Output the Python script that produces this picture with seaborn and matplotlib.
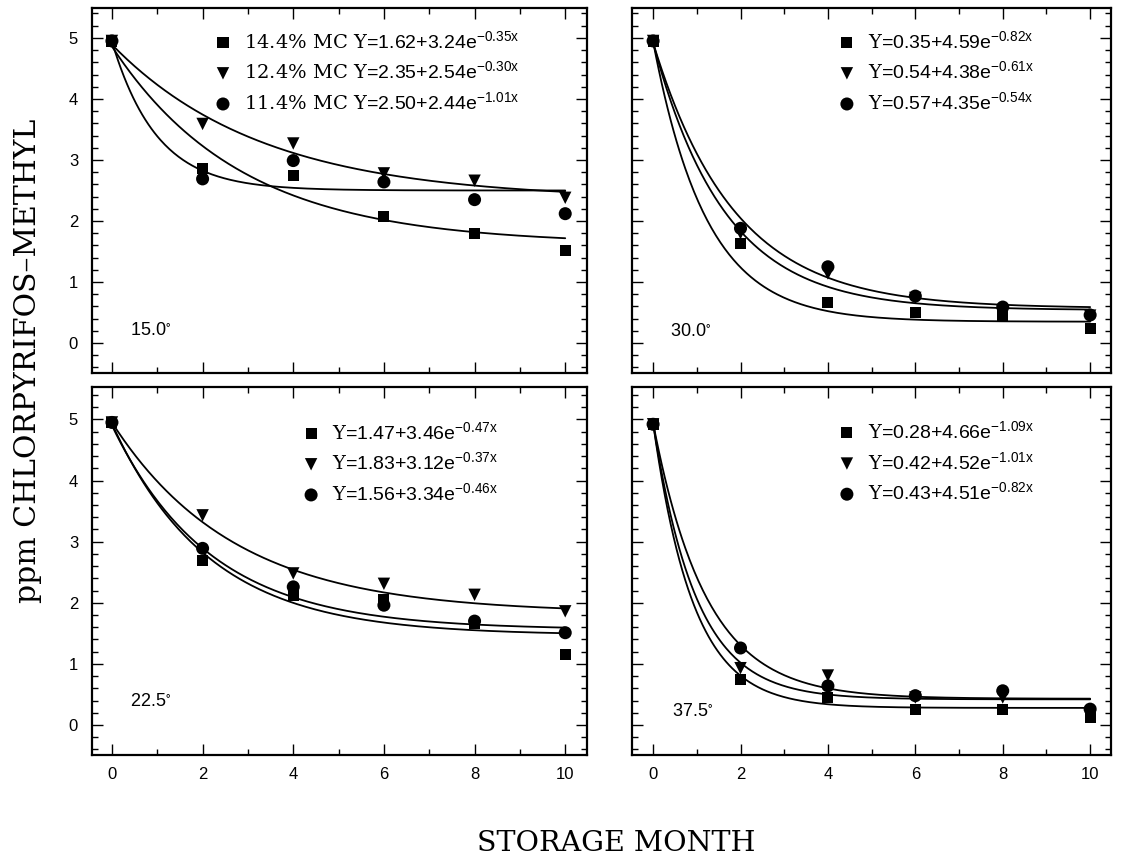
import numpy as np
import pandas as pd
import matplotlib.pyplot as plt
import seaborn as sns
from matplotlib.ticker import MultipleLocator


# storage months where residues were measured
months = [0, 2, 4, 6, 8, 10]

# ppm chlorpyrifos-methyl (square / triangle / circle)
p15_sq = [4.95, 2.86, 2.75, 2.08, 1.80, 1.51]
p15_tri = [4.95, 3.59, 3.27, 2.78, 2.66, 2.38]
p15_cir = [4.95, 2.69, 2.99, 2.64, 2.35, 2.12]

p30_sq = [4.95, 1.63, 0.67, 0.50, 0.46, 0.24]
p30_tri = [4.95, 1.80, 1.14, 0.74, 0.52, 0.45]
p30_cir = [4.95, 1.88, 1.25, 0.77, 0.59, 0.46]

p22_sq = [4.95, 2.69, 2.12, 2.05, 1.66, 1.16]
p22_tri = [4.95, 3.43, 2.48, 2.31, 2.13, 1.86]
p22_cir = [4.95, 2.89, 2.26, 1.96, 1.70, 1.51]

p37_sq = [4.92, 0.75, 0.45, 0.26, 0.26, 0.13]
p37_tri = [4.92, 0.93, 0.81, 0.45, 0.45, 0.20]
p37_cir = [4.92, 1.26, 0.64, 0.48, 0.56, 0.26]

# fitted models Y = a + b*exp(-k*x), as printed in each panel
fit15_a, fit15_b, fit15_k = [1.62, 2.35, 2.50], [3.24, 2.54, 2.44], [0.35, 0.30, 1.01]
fit30_a, fit30_b, fit30_k = [0.35, 0.54, 0.57], [4.59, 4.38, 4.35], [0.82, 0.61, 0.54]
fit22_a, fit22_b, fit22_k = [1.47, 1.83, 1.56], [3.46, 3.12, 3.34], [0.47, 0.37, 0.46]
fit37_a, fit37_b, fit37_k = [0.28, 0.42, 0.43], [4.66, 4.52, 4.51], [1.09, 1.01, 0.82]

mc_levels = ["14.4%", "12.4%", "11.4%"]
temps = ["15.0", "30.0", "22.5", "37.5"]


sns.set_style("ticks")
plt.rcParams["font.family"] = ["Liberation Sans", "DejaVu Sans"]
plt.rcParams["mathtext.fontset"] = "custom"
plt.rcParams["mathtext.rm"] = "DejaVu Serif"
plt.rcParams["mathtext.default"] = "regular"
plt.rcParams["text.color"] = "black"
plt.rcParams["xtick.color"] = "black"
plt.rcParams["ytick.color"] = "black"
plt.rcParams["axes.edgecolor"] = "black"

fig = plt.figure(figsize=(11.26, 8.59), dpi=100)

# axes boxes in figure fractions
ax_tl = fig.add_axes([0.0817, 0.5658, 0.4396, 0.4249])
ax_tr = fig.add_axes([0.5610, 0.5658, 0.4254, 0.4249])
ax_bl = fig.add_axes([0.0817, 0.1211, 0.4396, 0.4284])
ax_br = fig.add_axes([0.5610, 0.1211, 0.4254, 0.4284])

markers = ["s", "v", "o"]
sizes = [64, 80, 88]

panels = [
    (ax_tl, temps[0], [p15_sq, p15_tri, p15_cir], fit15_a, fit15_b, fit15_k,
     (0.245, 0.94), (0.077, 0.104)),
    (ax_tr, temps[1], [p30_sq, p30_tri, p30_cir], fit30_a, fit30_b, fit30_k,
     (0.429, 0.94), (0.080, 0.100)),
    (ax_bl, temps[2], [p22_sq, p22_tri, p22_cir], fit22_a, fit22_b, fit22_k,
     (0.423, 0.908), (0.077, 0.133)),
    (ax_br, temps[3], [p37_sq, p37_tri, p37_cir], fit37_a, fit37_b, fit37_k,
     (0.429, 0.910), (0.085, 0.106)),
]

xs = np.linspace(0, 10, 300)

for i, (ax, temp, series, fa, fb, fk, leg_pos, temp_pos) in enumerate(panels):

    labels = []
    for j in range(3):
        if i == 0:
            prefix = r"$\mathrm{%s\ MC\ Y}$=" % mc_levels[j].replace("%", r"\%")
        else:
            prefix = r"$\mathrm{Y}$="
        labels.append(prefix + f"{fa[j]:.2f}+{fb[j]:.2f}e" + r"$^{-%.2fx}$" % fk[j])

    # data points
    for j in range(3):
        sns.scatterplot(x=months, y=series[j], marker=markers[j], s=sizes[j],
                        color="black", edgecolor="none", ax=ax, zorder=3)
    handles = list(ax.collections[:3])

    # fitted curves
    for j in range(3):
        curve = pd.DataFrame({"x": xs, "y": fa[j] + fb[j] * np.exp(-fk[j] * xs)})
        sns.lineplot(data=curve, x="x", y="y", color="black", lw=1.3,
                     errorbar=None, ax=ax)

    ax.legend(handles=handles, labels=labels, loc="upper left",
              bbox_to_anchor=leg_pos, frameon=False, fontsize=14,
              handlelength=1.0, handletextpad=0.6, labelspacing=0.45,
              borderpad=0, borderaxespad=0, scatterpoints=1)

    ax.text(temp_pos[0], temp_pos[1], temp + r"$^{\circ}$", transform=ax.transAxes,
            fontsize=13, ha="left", va="baseline")

    if ax in (ax_tl, ax_bl):
        ax.set_xlim(-0.44, 10.48)
    else:
        ax.set_xlim(-0.49, 10.47)
    if ax in (ax_tl, ax_tr):
        ax.set_ylim(-0.49, 5.49)
    else:
        ax.set_ylim(-0.49, 5.53)

    ax.xaxis.set_major_locator(MultipleLocator(2))
    ax.xaxis.set_minor_locator(MultipleLocator(1))
    ax.yaxis.set_major_locator(MultipleLocator(1))
    ax.yaxis.set_minor_locator(MultipleLocator(0.2))
    ax.tick_params(which="both", direction="in", top=True, right=True,
                   width=1.0, labelsize=12)
    ax.tick_params(which="major", length=8)
    ax.tick_params(which="minor", length=4)
    ax.tick_params(axis="x", pad=9)
    ax.tick_params(axis="y", pad=10)

    if ax in (ax_tl, ax_tr):
        ax.tick_params(labelbottom=False)
    if ax in (ax_tr, ax_br):
        ax.tick_params(labelleft=False)

    ax.set_xlabel("")
    ax.set_ylabel("")
    for sp in ax.spines.values():
        sp.set_linewidth(1.6)
        sp.set_color("black")

fig.text(0.547, 0.0186, "STORAGE MONTH", family="DejaVu Serif", fontsize=20.5,
         ha="center", va="center")
fig.text(0.025, 0.58, "ppm CHLORPYRIFOS\u2013METHYL", family="DejaVu Serif",
         fontsize=21.5, rotation=90, ha="center", va="center")

fig.savefig("out.png", dpi=100)
